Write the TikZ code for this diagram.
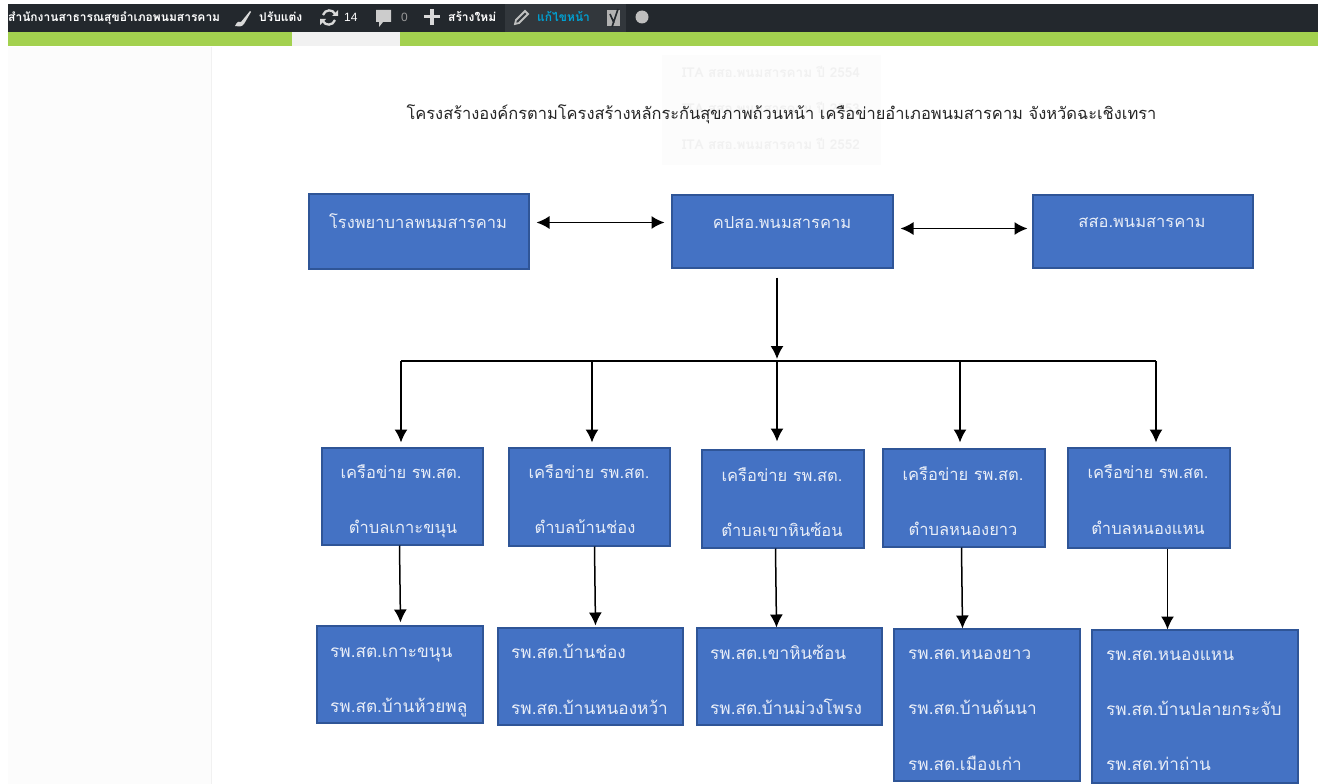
\documentclass[tikz,border=0pt]{standalone}
\usepackage{fontspec}
\setmainfont{Liberation Sans}
\newfontfamily\thaifont[Script=Thai]{Loma}
\usetikzlibrary{arrows.meta,calc}
\definecolor{boxfill}{HTML}{4472C4}
\definecolor{boxedge}{HTML}{2F5597}
\definecolor{barbg}{HTML}{23282D}
\definecolor{barhi}{HTML}{32373C}
\definecolor{barblue}{HTML}{00A0D2}
\definecolor{bargreen}{HTML}{A3D14F}
\definecolor{sidebg}{HTML}{FCFCFC}
\definecolor{faint}{HTML}{F1F1F1}
\definecolor{boxtext}{HTML}{E8EDF7}
\tikzset{
  x=1pt,y=-1pt,
  pic box/.style={draw=boxedge,fill=boxfill,line width=2pt,inner sep=0pt,anchor=north west},
  box label/.style={text=boxtext,font=\thaifont\fontsize{16.5}{18}\selectfont,inner sep=0pt,anchor=base},
  row label/.style={box label,anchor=base west,font=\thaifont\fontsize{17.2}{19}\selectfont},
  bar label/.style={text=white,font=\thaifont\bfseries\fontsize{12}{13}\selectfont,inner sep=0pt,anchor=base west},
  link/.style={draw=black,line width=1.5pt,-{Latex[length=13pt,width=13pt]}},
  duallink/.style={draw=black,line width=1.5pt,{Latex[length=13pt,width=13pt]}-{Latex[length=13pt,width=13pt]}},
  plain link/.style={draw=black,line width=1.5pt},
}
\newcommand{\bx}[5]{\node[pic box,minimum width=#4 pt-2pt,minimum height=#5 pt-2pt] (#1) at (#2+0.5,#3+0.5) {};}
\begin{document}
\begin{tikzpicture}
\useasboundingbox (0,0) rectangle (1318,784);
\fill[white] (0,0) rectangle (1318,784);
% admin bar
\fill[barbg] (8,4) rectangle (1318,32);
\fill[bargreen] (8,32) rectangle (1318,46);
\fill[faint] (292,32) rectangle (400,46);
\fill[sidebg] (8,47) rectangle (211,784);
\draw[faint,line width=.7pt] (211,47) -- (211,784);
\fill[barhi] (505,4) rectangle (626,32);
\node[bar label] (site) at (8,22) {สำนักงานสาธารณสุขอำเภอพนมสารคาม};
\fill[white!85!black] (235,26) .. controls (237,21) and (240,21) .. (241,22) -- (250,11) -- (251,12) -- (244,24) .. controls (242,27) and (238,27) .. (235,26) -- cycle;
\node[bar label] (custom) at (259,22) {ปรับแต่ง};
\draw[white!85!black,line width=2.3pt] (323,15) .. controls (325,9) and (333,9) .. (335,14);
\draw[white!85!black,line width=2.3pt] (335,20) .. controls (333,26) and (325,26) .. (323,21);
\fill[white!85!black] (332,16) -- (338,16) -- (338,10) -- cycle;
\fill[white!85!black] (320,19) -- (326,19) -- (320,25) -- cycle;
\node[bar label,font=\fontsize{12}{13}\selectfont] (upd) at (344,22) {14};
\fill[white!80!black] (376,10) -- (391,10) -- (391,22) -- (383,22) -- (379,27) -- (379,22) -- (376,22) -- cycle;
\node[bar label,font=\fontsize{12}{13}\selectfont,text=white!60!black] (cmt) at (401,22) {0};
\fill[white!85!black] (424,15) rectangle (440,18.5);
\fill[white!85!black] (430.3,9) rectangle (433.8,25);
\node[bar label] (new) at (448,22) {สร้างใหม่};
\draw[white!75!black,line width=1.8pt] (515,24) -- (516,20) -- (525,11) -- (528,14) -- (519,23) -- cycle;
\node[bar label,text=barblue] (edit) at (537,22) {แก้ไขหน้า};
\fill[white!70!black] (607,10) rectangle (620,26);
\draw[barbg,line width=1.6pt] (610,14) -- (614,23) (618,9) -- (612,27);
\fill[white!75!black] (642,17) circle[radius=6.5];
% faint popup behind title
\fill[white!99!black] (662,55) rectangle (881,165);
\node[inner sep=0pt,text=faint,font=\thaifont\bfseries\fontsize{13.5}{15}\selectfont] (ita1) at (771,72) {ITA สสอ.พนมสารคาม ปี 2554};
\node[inner sep=0pt,text=faint,font=\thaifont\bfseries\fontsize{13.5}{15}\selectfont] (ita2) at (771,108) {ITA สสอ.พนมสารคาม ปี 2553};
\node[inner sep=0pt,text=faint,font=\thaifont\bfseries\fontsize{13.5}{15}\selectfont] (ita3) at (771,144) {ITA สสอ.พนมสารคาม ปี 2552};
% title
\node[inner sep=0pt,anchor=base,text=black!85,font=\thaifont\fontsize{16.45}{19}\selectfont] (title) at (781.5,120) {โครงสร้างองค์กรตามโครงสร้างหลักระกันสุขภาพถ้วนหน้า เครือข่ายอำเภอพนมสารคาม จังหวัดฉะเชิงเทรา};
% top row
\bx{hosp}{307}{192}{222}{77}
\bx{cup}{670}{193}{223}{75}
\bx{sso}{1031}{193}{222}{75}
\node[box label] (hospt) at (418,228) {โรงพยาบาลพนมสารคาม};
\node[box label] (cupt) at (782,228) {คปสอ.พนมสารคาม};
\node[box label] (ssot) at (1142,227) {สสอ.พนมสารคาม};
% second row
\bx{n1}{320}{446}{163}{99}
\bx{n2}{507}{446}{163}{100}
\bx{n3}{700}{448}{164}{100}
\bx{n4}{881}{447}{164}{100}
\bx{n5}{1066}{446}{164}{102}
\node[box label] (n1a) at (401,478) {เครือข่าย รพ.สต.};
\node[box label] (n1b) at (403,533) {ตำบลเกาะขนุน};
\node[box label] (n2a) at (589,478) {เครือข่าย รพ.สต.};
\node[box label] (n2b) at (585,533) {ตำบลบ้านช่อง};
\node[box label] (n3a) at (782,481) {เครือข่าย รพ.สต.};
\node[box label] (n3b) at (782,536) {ตำบลเขาหินซ้อน};
\node[box label] (n4a) at (963,480) {เครือข่าย รพ.สต.};
\node[box label] (n4b) at (963,535) {ตำบลหนองยาว};
\node[box label] (n5a) at (1148,478) {เครือข่าย รพ.สต.};
\node[box label] (n5b) at (1148,534) {ตำบลหนองแหน};
% third row
\bx{h1}{315}{624}{168}{99}
\bx{h2}{496}{626}{187}{99}
\bx{h3}{695}{626}{187}{99}
\bx{h4}{892}{627}{188}{154}
\bx{h5}{1090}{628}{208}{155}
\node[row label] (h1a) at (330,657) {รพ.สต.เกาะขนุน};
\node[row label] (h1b) at (330,712) {รพ.สต.บ้านห้วยพลู};
\node[row label] (h2a) at (511,658) {รพ.สต.บ้านช่อง};
\node[row label] (h2b) at (511,714) {รพ.สต.บ้านหนองหว้า};
\node[row label] (h3a) at (710,659) {รพ.สต.เขาหินซ้อน};
\node[row label] (h3b) at (710,714) {รพ.สต.บ้านม่วงโพรง};
\node[row label] (h4a) at (908,659) {รพ.สต.หนองยาว};
\node[row label] (h4b) at (908,714) {รพ.สต.บ้านต้นนา};
\node[row label] (h4c) at (908,770) {รพ.สต.เมืองเก่า};
\node[row label] (h5a) at (1106,660) {รพ.สต.หนองแหน};
\node[row label] (h5b) at (1106,715) {รพ.สต.บ้านปลายกระจับ};
\node[row label] (h5c) at (1106,770) {รพ.สต.ท่าถ่าน};
% connectors
\draw[duallink,shorten <=7pt,shorten >=6pt] ($(hosp.east)+(0,-8.5)$) -- ($(cup.west)+(0,-8.5)$);
\draw[duallink,shorten <=7pt,shorten >=4pt] ($(cup.east)+(0,-2.5)$) -- ($(sso.west)+(0,-2.5)$);
\coordinate (busl) at (401,361);
\coordinate (busr) at (1156,361);
\coordinate (bus2) at (592,361);
\coordinate (bus3) at (777,361);
\coordinate (bus4) at (960,361);
\draw[link,shorten <=9pt,shorten >=2pt] (cup.south -| bus3) -- (bus3);
\draw[plain link] (busl) -- (busr);
\draw[link,shorten >=4pt] (busl) -- (busl |- n1.north);
\draw[link,shorten >=4pt] (bus2) -- (bus2 |- n2.north);
\draw[link,shorten >=7pt] (bus3) -- (bus3 |- n3.north);
\draw[link,shorten >=5pt] (bus4) -- (bus4 |- n4.north);
\draw[link,shorten >=4pt] (busr) -- (busr |- n5.north);
\draw[link,shorten >=2pt] ($(n1.south west)+(79,0)$) -- ($(h1.north west)+(85,0)$);
\draw[link,shorten >=1pt] ($(n2.south west)+(87,0)$) -- ($(h2.north west)+(99,0)$);
\draw[link,shorten >=-1pt] ($(n3.south west)+(75,0)$) -- ($(h3.north west)+(81,0)$);
\draw[link,shorten >=-1pt] ($(n4.south west)+(80,0)$) -- ($(h4.north west)+(70,0)$);
\draw[link,shorten >=-1pt] ($(n5.south west)+(101,0)$) -- ($(h5.north west)+(77,0)$);
\end{tikzpicture}
\end{document}
